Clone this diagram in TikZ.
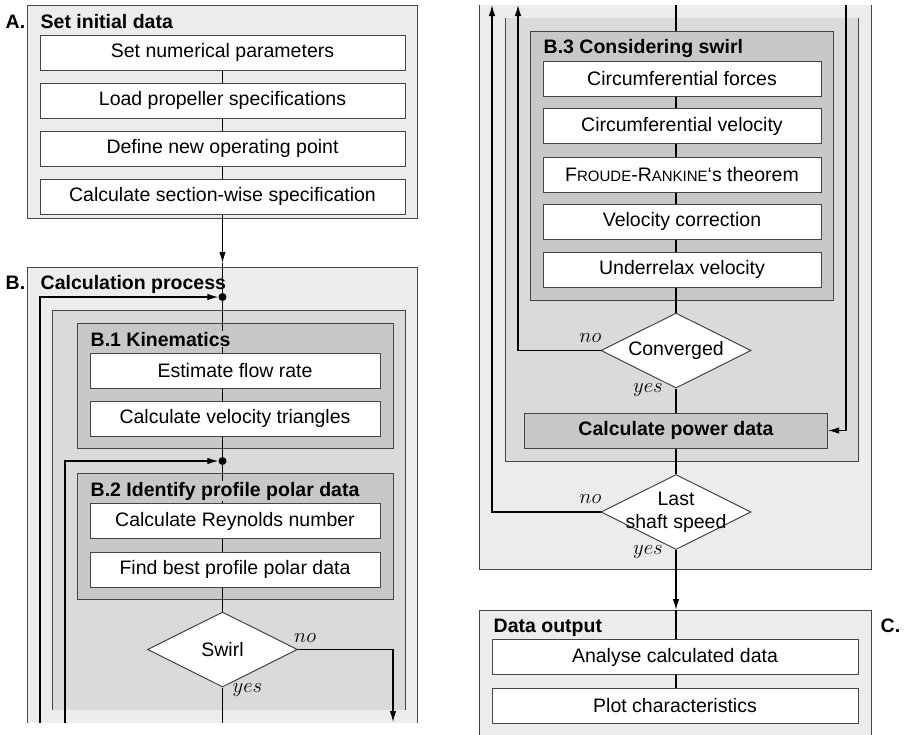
\documentclass[tikz,border=0pt]{standalone}
\usepackage{fontspec}
\setmainfont{Liberation Sans}
\usetikzlibrary{shapes.geometric,arrows.meta}

\definecolor{grpA}{HTML}{EBECEB}
\definecolor{grpB}{HTML}{D9DBDA}
\definecolor{grpC}{HTML}{C7C8C7}
\definecolor{frame}{HTML}{454545}

\newcommand{\fsz}{\fontsize{19.5pt}{23pt}\selectfont}

\tikzset{
  every node/.style={font=\fsz},
  task/.style={rectangle, draw=frame, fill=white, line width=1pt,
    minimum height=35pt, inner sep=0pt},
  decision/.style={diamond, draw=frame, fill=white, line width=1pt,
    minimum width=150pt, minimum height=75pt, inner sep=0pt,
    label={[align=center]center:#1}},
  title/.style={font=\fsz\bfseries, inner sep=0.5pt, anchor=base west},
  dot/.style={circle, fill=black, inner sep=0pt, minimum size=8pt},
  ans/.style={inner sep=0pt},
  wire/.style={line width=1.2pt},
  box/.style={line width=1pt, draw=frame},
}

\begin{document}
\begin{tikzpicture}[x=1pt, y=-1pt, >={Latex[length=11pt,width=6.5pt]}]
\useasboundingbox (0,0) rectangle (904,734);

% frames, left column
\filldraw[box, fill=grpA] (27,5) rectangle (417,218);
\fill[grpA] (27,267) rectangle (417,723);
\draw[box] (27,723) -- (27,267) -- (417,267) -- (417,723);
\fill[grpB] (52,310) rectangle (405,710);
\draw[box] (52,710) -- (52,310) -- (405,310) -- (405,710);
\filldraw[box, fill=grpC] (77,323) rectangle (393,448);
\filldraw[box, fill=grpC] (77,473) rectangle (393,599);

% frames, right column
\fill[grpA] (479,5) rectangle (871,569);
\draw[box] (479,5) -- (479,569) -- (871,569) -- (871,5);
\fill[grpB] (505,18) rectangle (858,461);
\draw[box] (505,18) -- (505,461) -- (858,461) -- (858,18);
\filldraw[box, fill=grpC] (530,31) rectangle (833,300);
\fill[grpA] (479,610) rectangle (871,740);
\draw[box] (479,740) -- (479,610) -- (871,610) -- (871,740);

% spines and loose ends
\coordinate (sL) at (222.5,0);
\coordinate (sR) at (676,0);
\coordinate (inB) at (222.5,263);
\coordinate (inC) at (676,610);
\coordinate (endL) at (222.5,723);
\coordinate (noL) at (393,722);
\coordinate (loopL) at (40,723);
\coordinate (loopLL) at (65,723);
\coordinate (topR) at (676,5);
\coordinate (topB3) at (676,31);
\coordinate (loopR) at (492,5);
\coordinate (loopRR) at (518,5);
\coordinate (noR) at (846,5);

% A. Set initial data
\node[task, minimum width=365pt] (a1) at (222.5,52.5) {Set numerical parameters};
\node[task, minimum width=365pt] (a2) at (222.5,100.5) {Load propeller specifications};
\node[task, minimum width=365pt] (a3) at (222.5,148.5) {Define new operating point};
\node[task, minimum width=365pt] (a4) at (222.5,196.5) {Calculate section-wise specification};

% B.1 / B.2
\node[task, minimum width=290pt] (b11) at (235,370.5) {Estimate flow rate};
\node[task, minimum width=290pt] (b12) at (235,418.5) {Calculate velocity triangles};
\node[task, minimum width=290pt] (b21) at (235,521) {Calculate Reynolds number};
\node[task, minimum width=290pt] (b22) at (235,569.5) {Find best profile polar data};
\node[decision=Swirl] (swirl) at (222.5,649.5) {};
\node[dot] (j1) at (222.5,297) {};
\node[dot] (j2) at (222.5,461) {};

% B.3 Considering swirl
\node[task, minimum width=278pt] (c1) at (682,78.5) {Circumferential forces};
\node[task, minimum width=278pt] (c2) at (682,126) {Circumferential velocity};
\node[task, minimum width=278pt] (c3) at (682,174.5) {F{\fontsize{15pt}{15pt}\selectfont ROUDE}-R{\fontsize{15pt}{15pt}\selectfont ANKINE}‘s theorem};
\node[task, minimum width=278pt] (c4) at (682,221.5) {Velocity correction};
\node[task, minimum width=278pt] (c5) at (682,269.5) {Underrelax velocity};
\node[decision=Converged] (conv) at (676,350.5) {};
\node[task, fill=grpC, minimum width=303pt, font=\fsz\bfseries] (power) at (676,430.5) {Calculate power data};
\node[decision={Last\\shaft speed}] (last) at (676,512) {};

% C. Data output
\node[task, minimum width=366pt] (d1) at (675,657) {Analyse calculated data};
\node[task, minimum width=366pt] (d2) at (675,705.5) {Plot characteristics};

% connectors, left column
\draw[wire] (a1) -- (a2) (a2) -- (a3) (a3) -- (a4);
\draw[wire, ->] (a4) -- (inB);
\draw[wire] (inB) -- (j1) -- (sL |- b11.north);
\draw[wire] (sL |- b11.south) -- (sL |- b12.north);
\draw[wire] (sL |- b12.south) -- (j2) -- (sL |- b21.north);
\draw[wire] (sL |- b21.south) -- (sL |- b22.north);
\draw[wire] (sL |- b22.south) -- (swirl);
\draw[wire] (swirl) -- (endL);
\draw[wire, ->] (swirl.east) -| (noL);
\draw[wire, ->] (loopL) |- (j1);
\draw[wire, ->] (loopLL) |- (j2);

% connectors, right column
\draw[wire] (topR) -- (topB3);
\draw[wire] (sR |- c1.south) -- (sR |- c2.north);
\draw[wire] (sR |- c2.south) -- (sR |- c3.north);
\draw[wire] (sR |- c3.south) -- (sR |- c4.north);
\draw[wire] (sR |- c4.south) -- (sR |- c5.north);
\draw[wire] (sR |- c5.south) -- (conv);
\draw[wire] (conv) -- (power);
\draw[wire] (power) -- (last);
\draw[wire, ->] (last) -- (inC);
\draw[wire] (inC) -- (sR |- d1.north);
\draw[wire] (sR |- d1.south) -- (sR |- d2.north);
\draw[wire, ->] (conv.west) -| (loopRR);
\draw[wire, ->] (last.west) -| (loopR);
\draw[wire, ->] (noR) |- (power.east);

% answers
\node[ans, anchor=base west] (swno) at ([xshift=-4pt,yshift=7pt]swirl.east) {$no$};
\node[ans, anchor=base west] (swyes) at ([xshift=10pt,yshift=-5pt]swirl.south) {$yes$};
\node[ans, anchor=base east] (cvno) at ([xshift=1pt,yshift=8pt]conv.west) {$no$};
\node[ans, anchor=base east] (cvyes) at ([xshift=-13pt,yshift=-4pt]conv.south) {$yes$};
\node[ans, anchor=base east] (lsno) at ([xshift=1pt,yshift=9pt]last.west) {$no$};
\node[ans, anchor=base east] (lsyes) at ([xshift=-13pt,yshift=-4pt]last.south) {$yes$};

% titles
\node[title] (lA) at (5,28) {A.};
\node[title] (tA) at (40,28) {Set initial data};
\node[title] (lB) at (5,289) {B.};
\node[title] (tB) at (40,289) {Calculation process};
\node[title, fill=grpC] (tB1) at (90,346) {B.1 Kinematics};
\node[title, fill=grpC] (tB2) at (90,496) {B.2 Identify profile polar data};
\node[title] (tB3) at (543,53) {B.3 Considering swirl};
\node[title] (tC) at (493,632) {Data output};
\node[title] (lC) at (880,632) {C.};
\end{tikzpicture}
\end{document}
